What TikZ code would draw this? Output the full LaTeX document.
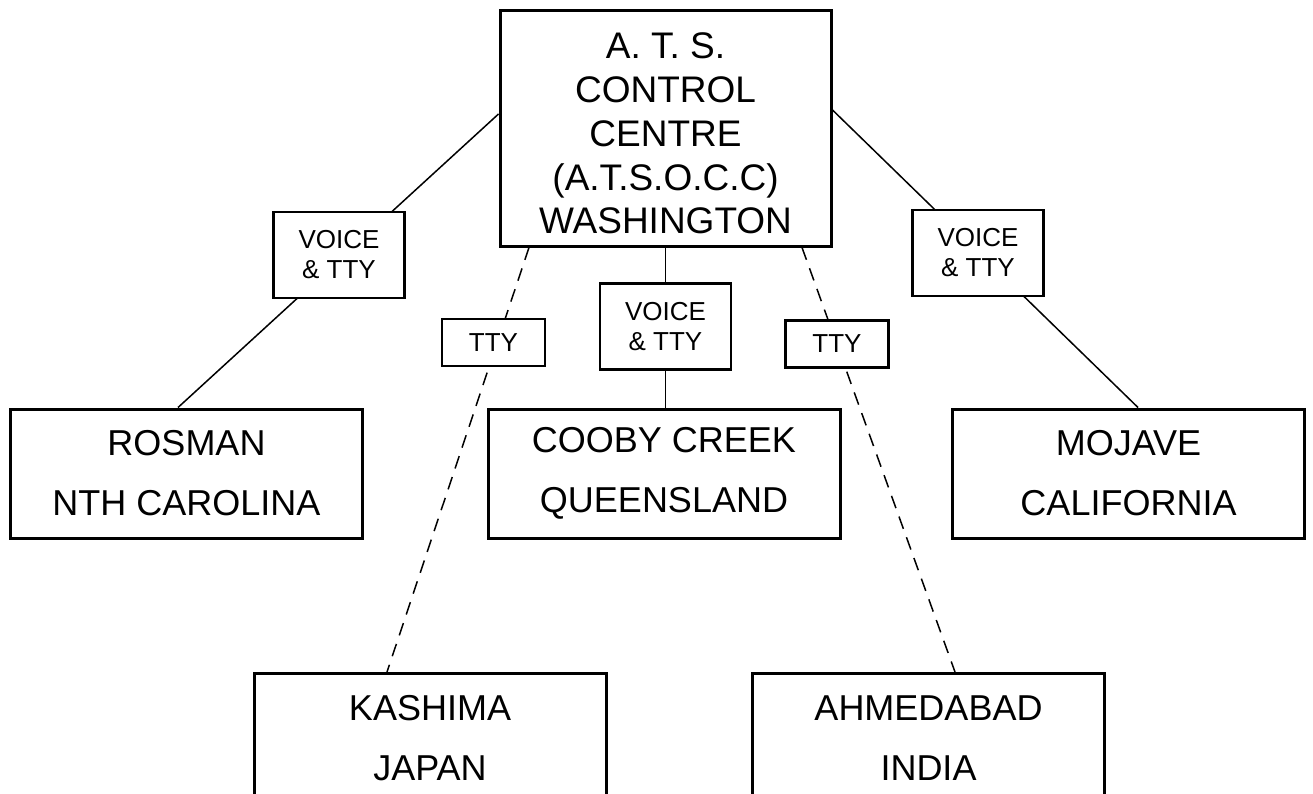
\documentclass[tikz,border=0pt]{standalone}
\usepackage{fontspec}
\setmainfont{Liberation Sans}
\usepackage{tikz}
\usetikzlibrary{positioning}

\begin{document}
\begin{tikzpicture}[x=1pt, y=-1pt,
        box/.style={draw, line width=3pt, inner sep=0pt, align=center,
                    font=\fontsize{36}{60}\selectfont},
        hub/.style={box, minimum width=331pt, minimum height=236pt,
                    font=\fontsize{37}{43.7}\selectfont},
        station/.style={box, minimum width=352pt, minimum height=129pt},
        tag/.style={draw, fill=white, line width=2.2pt, inner sep=0pt,
                    align=center, minimum width=131pt, minimum height=86pt,
                    font=\fontsize{26}{30}\selectfont},
        ttytag/.style={tag, minimum width=103pt, minimum height=47pt},
        link/.style={line width=1.5pt},
        ttylink/.style={link, dash pattern=on 13pt off 9pt},
      ]
        % Background and page frame
        \fill[white] (0,0) rectangle (1313,793);
        \useasboundingbox (0,0) rectangle (1313,793);
        \clip (0,0) rectangle (1313,793);
        % Control centre
        \node[hub] (atsocc) at (665.5,128)
          {\rule{0pt}{37pt}A. T. S.\\CONTROL\\CENTRE\\(A.T.S.O.C.C)\\WASHINGTON};
        % Stations
        \node[station] (rosman) at (186.5,473.5) {ROSMAN\\NTH CAROLINA};
        \node[station] (cooby) at (664,473.5) {COOBY CREEK\\QUEENSLAND};
        \node[station] (mojave) at (1128.5,473.5) {MOJAVE\\CALIFORNIA};
        % Lower stations, cut by the page edge
        \node[station] (kashima) at (430,738) {KASHIMA\\JAPAN};
        \node[station] (ahmedabad) at (928.5,738) {AHMEDABAD\\INDIA};
        % Links: solid for voice, dashed for teletype only
        \draw[link] ([yshift=14pt]atsocc.west) -- ([xshift=-8.5pt]rosman.north);
        \draw[link] (atsocc.south) -- (atsocc.south |- cooby.north);
        \draw[link] ([yshift=18pt]atsocc.east) -- ([xshift=9.5pt]mojave.north);
        \draw[ttylink] ([xshift=-136.5pt]atsocc.south) -- ([xshift=-43pt]kashima.north);
        \draw[ttylink] ([xshift=136.5pt]atsocc.south) -- ([xshift=26.5pt]ahmedabad.north);
        % Tags over the links
        \node[tag] (tagRosman) at (339,255) {VOICE\\\& TTY};
        \node[tag] (tagCooby) at (665.5,326.5) {VOICE\\\& TTY};
        \node[tag] (tagMojave) at (978,253) {VOICE\\\& TTY};
        \node[ttytag] (tagKashima) at (493.5,342.5) {TTY};
        \node[ttytag] (tagAhmedabad) at (837,344) {TTY};
      \end{tikzpicture}
\end{document}
